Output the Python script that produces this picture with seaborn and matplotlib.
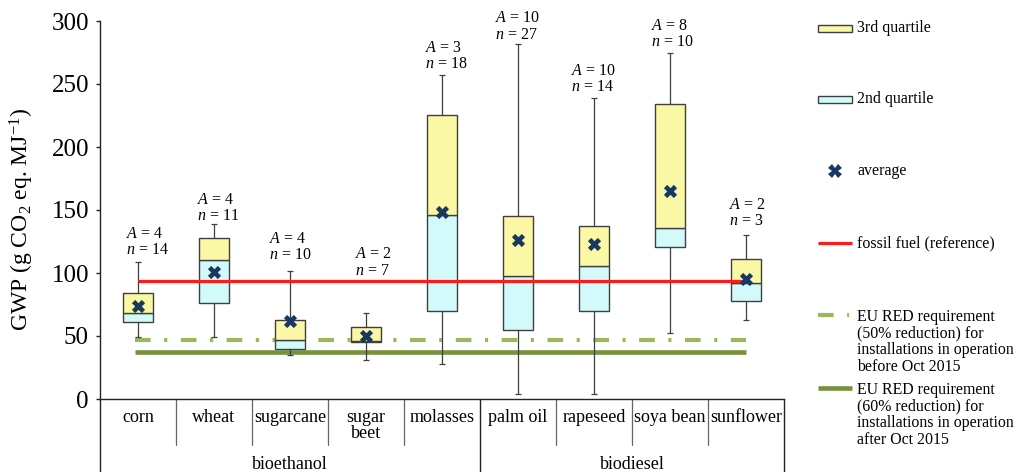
import numpy as np
import pandas as pd
import matplotlib
matplotlib.use("Agg")
import matplotlib.pyplot as plt
from matplotlib.lines import Line2D
from matplotlib.patches import Rectangle
import seaborn as sns

# Global warming potential of first-generation biofuels (g CO2 eq. MJ^-1)
feedstocks = ["corn", "wheat", "sugarcane", "sugar\nbeet", "molasses",
              "palm oil", "rapeseed", "soya bean", "sunflower"]
fuel_types = ["bioethanol", "biodiesel"]
feedstocks_per_fuel = [5, 4]

whisker_min = [49.5, 49, 35, 31, 28, 4, 4, 52, 63]
quartile_1 = [61, 76.5, 39.5, 45, 70, 55, 70, 120.5, 77.5]
median = [68.5, 110, 47, 46, 146, 98, 105.5, 136, 92]
quartile_3 = [84.5, 128, 62.5, 57.5, 225, 145.5, 137.5, 234, 111]
whisker_max = [108.5, 138.5, 101.5, 68.5, 257, 282, 238.5, 275, 130]
average = [73.5, 100.5, 62, 50, 148.5, 126, 123, 165, 95]
num_authors = [4, 4, 4, 2, 3, 10, 10, 8, 2]
num_values = [14, 11, 10, 7, 18, 27, 14, 10, 3]

fossil_reference = 94
eu_red_50 = 47      # 50 % reduction, installations before Oct 2015
eu_red_60 = 37.6    # 60 % reduction, installations after Oct 2015

y_ticks = [0, 50, 100, 150, 200, 250, 300]

# placement of the A / n annotations relative to each whisker top (points)
note_dx = [6.5, 3, 0, 5, 3.2, -0.7, -0.7, 1.5, 1]
note_dy = [3, 0, 6, 24.5, 2.3, 0.8, 2.3, 1.5, 4.5]

YELLOW = "#FAF7A5"
CYAN = "#D3FAFA"
EDGE = "#3F3F3F"
NAVY = "#173863"
RED = "#FF1A1A"
GREEN = "#76923C"
GREEN_LIGHT = "#9BB85E"
INK = "#000000"

sns.set_style("white")
plt.rcParams["font.family"] = ["Liberation Serif", "DejaVu Serif"]
plt.rcParams["mathtext.fontset"] = "custom"
plt.rcParams["mathtext.rm"] = "Liberation Serif"
plt.rcParams["mathtext.it"] = "Liberation Serif:italic"
plt.rcParams["mathtext.bf"] = "Liberation Serif:bold"
plt.rcParams["text.color"] = INK
plt.rcParams["axes.labelcolor"] = INK
plt.rcParams["xtick.labelcolor"] = INK
plt.rcParams["ytick.labelcolor"] = INK

df = pd.DataFrame({
    "feedstock": feedstocks,
    "q1": quartile_1,
    "median": median,
    "q3": quartile_3,
    "low": whisker_min,
    "high": whisker_max,
    "average": average,
})
df["lower_half"] = df["median"] - df["q1"]
df["upper_half"] = df["q3"] - df["median"]

W, H = 1023, 472
fig = plt.figure(figsize=(W / 100, H / 100), dpi=100)
ax = fig.add_axes([100 / W, 73 / H, 684 / W, 378 / H])

# box halves: 2nd quartile (Q1 -> median) and 3rd quartile (median -> Q3)
sns.barplot(data=df, x="feedstock", y="lower_half", bottom=df["q1"].to_numpy(),
            width=0.4, color=CYAN, saturation=1, edgecolor=EDGE, linewidth=1.0,
            errorbar=None, ax=ax, zorder=3)
sns.barplot(data=df, x="feedstock", y="upper_half", bottom=df["median"].to_numpy(),
            width=0.4, color=YELLOW, saturation=1, edgecolor=EDGE, linewidth=1.0,
            errorbar=None, ax=ax, zorder=3)

pos = np.arange(len(feedstocks))
cap = 0.04
ax.vlines(pos, df["low"], df["q1"], color=EDGE, lw=0.9, zorder=2)
ax.vlines(pos, df["q3"], df["high"], color=EDGE, lw=0.9, zorder=2)
ax.hlines(df["low"], pos - cap, pos + cap, color=EDGE, lw=0.9, zorder=2)
ax.hlines(df["high"], pos - cap, pos + cap, color=EDGE, lw=0.9, zorder=2)

# reference levels
ax.plot([pos[0] - 0.04, pos[-1]], [eu_red_60] * 2, color=GREEN, lw=3.3,
        solid_capstyle="butt", zorder=1)
ax.plot([pos[0] - 0.04, pos[-1]], [eu_red_50] * 2, color=GREEN_LIGHT, lw=3.0,
        dashes=(3.75, 3.25, 0.75, 3.25), dash_capstyle="butt", zorder=1)
ax.plot([pos[0], pos[-1]], [fossil_reference] * 2, color=RED, lw=2.3,
        solid_capstyle="butt", zorder=4)

# averages
sns.stripplot(data=df, x="feedstock", y="average", jitter=False, marker="X",
              size=9.5, color=NAVY, linewidth=0, ax=ax, zorder=6)

# number of authors / values above each whisker
for i in pos:
    ax.annotate(f"$A$ = {num_authors[i]}\n$n$ = {num_values[i]}",
                xy=(i, whisker_max[i]), xytext=(note_dx[i], note_dy[i]),
                textcoords="offset points", ha="center", va="bottom",
                multialignment="left", fontsize=11.5, linespacing=1.02)

ax.set_xlim(-0.5, len(feedstocks) - 0.5)
ax.set_ylim(0, 300)
ax.set_yticks(y_ticks)
ax.set_xlabel("")
ax.set_ylabel("GWP (g CO$_2$ eq. MJ$^{-1}$)", fontsize=17)
ax.yaxis.set_label_coords(-0.1145, 0.475)
ax.yaxis.label.set_va("center")

for side in ["top", "right"]:
    ax.spines[side].set_visible(False)
for side in ["left", "bottom"]:
    ax.spines[side].set_color("#222222")
    ax.spines[side].set_linewidth(1.0)

ax.tick_params(axis="y", direction="out", length=3, width=1, color="#222222",
               labelsize=18, pad=5, left=True)
ax.tick_params(axis="x", length=0, labelsize=13, pad=7.5)
for lbl in ax.get_xticklabels():
    lbl.set_linespacing(0.88)

# table grid below the axis
tr = ax.get_xaxis_transform()
edges = np.cumsum([0] + feedstocks_per_fuel) - 0.5
for x in pos[:-1] + 0.5:
    if x not in edges:
        ax.plot([x, x], [0, -0.122], transform=tr, clip_on=False,
                color="#666666", lw=0.9)
for x in edges:
    ax.plot([x, x], [0, -0.25], transform=tr, clip_on=False,
            color="#222222", lw=1.0)
for name, lo, hi in zip(fuel_types, edges[:-1], edges[1:]):
    ax.text((lo + hi) / 2, -0.174, name, transform=tr, ha="center", va="center",
            fontsize=13)

# legend
def fx(px):
    return px / W

def fy(py):
    return 1 - py / H

leg_x0, leg_x1, text_x = 818, 852, 857
for y, face in [(28, YELLOW), (99, CYAN)]:
    fig.add_artist(Rectangle((fx(leg_x0), fy(y + 3.5)), (leg_x1 - leg_x0) / W, 7 / H,
                             transform=fig.transFigure, facecolor=face,
                             edgecolor=EDGE, lw=1.0))
fig.add_artist(Line2D([fx((leg_x0 + leg_x1) / 2)], [fy(171)], marker="X", ms=9.5,
                      color=NAVY, mew=0, linestyle="none", transform=fig.transFigure))
fig.add_artist(Line2D([fx(leg_x0), fx(leg_x1)], [fy(243)] * 2, color=RED, lw=2.3,
                      solid_capstyle="butt", transform=fig.transFigure))
fig.add_artist(Line2D([fx(leg_x0), fx(849)], [fy(315)] * 2, color=GREEN_LIGHT, lw=3.0,
                      dashes=(3.75, 3.25, 0.75, 3.25), dash_capstyle="butt",
                      transform=fig.transFigure))
fig.add_artist(Line2D([fx(leg_x0), fx(leg_x1)], [fy(388)] * 2, color=GREEN, lw=3.3,
                      solid_capstyle="butt", transform=fig.transFigure))

legend_labels = [
    (28, "3rd quartile"),
    (99, "2nd quartile"),
    (171, "average"),
    (243, "fossil fuel (reference)"),
]
for y, text in legend_labels:
    fig.text(fx(text_x), fy(y), text, ha="left", va="center", fontsize=11.4)
for y, text in [
    (309, "EU RED requirement\n(50% reduction) for\ninstallations in operation\nbefore Oct 2015"),
    (382, "EU RED requirement\n(60% reduction) for\ninstallations in operation\nafter Oct 2015"),
]:
    fig.text(fx(text_x), fy(y), text, ha="left", va="top", fontsize=11.4,
             linespacing=1.06)

fig.savefig("out.png", dpi=100)
